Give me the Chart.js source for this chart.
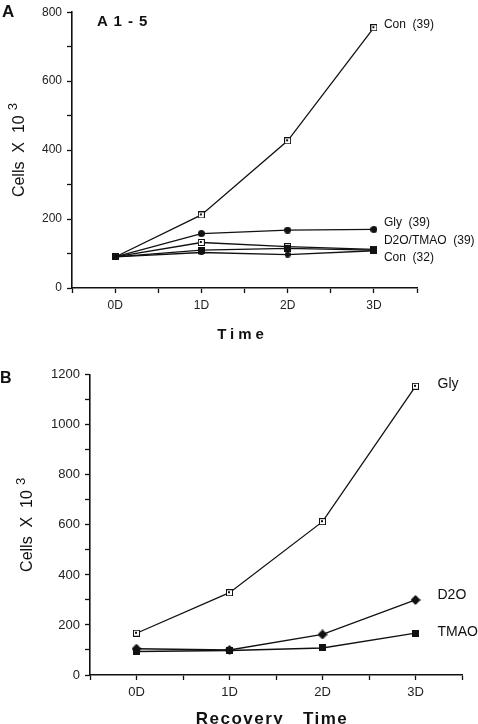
<!DOCTYPE html>
<html>
<head>
<meta charset="utf-8">
<script src="https://cdn.jsdelivr.net/npm/chart.js@4.4.0/dist/chart.umd.min.js"></script>
<style>
  html, body { margin: 0; padding: 0; background: #fff; }
  #wrap { position: relative; width: 478px; height: 724px; overflow: hidden; font-family: Arial, "Liberation Sans", sans-serif; color: #111; }
  canvas { position: absolute; left: 0; }
  .tag { position: absolute; font-weight: bold; }
</style>
</head>
<body>
<div id="wrap">
  <canvas id="chartA" width="478" height="362" style="top:0"></canvas>
  <canvas id="chartB" width="478" height="362" style="top:362px"></canvas>
  <div class="tag" style="left:2px;top:2px;font-size:17px">A</div>
  <div class="tag" style="left:97px;top:12px;font-size:15px;letter-spacing:1px">A 1 - 5</div>
  <div class="tag" style="left:0px;top:369px;font-size:16px">B</div>
</div>
<script>
// days after the shift (0D .. 3D)
const days = ['0D', '1D', '2D', '3D'];

// panel A: cells x 10^3
const conA39 = [90, 212, 427, 755];
const glyA39 = [90, 158, 168, 170];
const d2oA39 = [90, 132, 120, 112];
const tmaoA39 = [90, 110, 115, 110];
const conA32 = [90, 103, 97, 108];

// panel B: recovery
const glyB = [167, 329, 613, 1154];
const d2oB = [105, 100, 162, 300];
const tmaoB = [94, 98, 108, 167];

// little marker images
function marker(kind, size) {
  const c = document.createElement('canvas');
  c.width = size; c.height = size;
  const g = c.getContext('2d');
  g.fillStyle = '#111';
  g.strokeStyle = '#111';
  if (kind === 'openDot') {
    g.fillRect(0, 0, size, size);
    g.fillStyle = '#fff';
    g.fillRect(1, 1, size - 2, size - 2);
    g.fillStyle = '#111';
    const m = Math.floor(size / 2);
    g.fillRect(m - 1, m - 1, 2, 2);
  } else if (kind === 'square') {
    g.fillRect(0, 0, size, size);
  } else if (kind === 'diamond') {
    g.beginPath();
    g.moveTo(size / 2, 0);
    g.lineTo(size, size / 2);
    g.lineTo(size / 2, size);
    g.lineTo(0, size / 2);
    g.closePath();
    g.fill();
  } else if (kind === 'circle') {
    g.beginPath();
    g.arc(size / 2, size / 2, size / 2, 0, Math.PI * 2);
    g.fill();
  }
  return c;
}

function toPoints(vals) {
  return vals.map((v, i) => ({ x: i, y: v }));
}

function series(vals, style) {
  return {
    data: toPoints(vals),
    borderColor: '#111',
    borderWidth: 1.3,
    pointStyle: style,
    pointRadius: 4,
    tension: 0,
  };
}

// axis titles and text next to the line ends
const panelText = {
  id: 'panelText',
  afterDraw(chart, args, opts) {
    const ctx = chart.ctx;
    const xs = chart.scales.x, ys = chart.scales.y;
    const area = chart.chartArea;
    ctx.save();
    ctx.fillStyle = '#111';
    ctx.textBaseline = 'middle';

    ctx.font = opts.labelFont;
    opts.items.forEach(l => {
      ctx.fillText(l.text, xs.getPixelForValue(3) + opts.dx, ys.getPixelForValue(l.at));
    });

    // x title, spaced out
    ctx.font = opts.xTitleFont;
    ctx.letterSpacing = opts.xSpacing;
    ctx.textAlign = 'center';
    ctx.fillText(opts.xTitle, (area.left + area.right) / 2 + opts.xShift, opts.xTitleY);
    ctx.letterSpacing = '0px';

    // y title with raised exponent
    ctx.translate(opts.yTitleX, (area.top + area.bottom) / 2);
    ctx.rotate(-Math.PI / 2);
    ctx.textAlign = 'left';
    ctx.font = '16px Arial';
    const main = 'Cells  X  10';
    const w1 = ctx.measureText(main).width;
    ctx.font = '13px Arial';
    const w2 = ctx.measureText('3').width;
    const x0 = -(w1 + 5 + w2) / 2;
    ctx.font = '16px Arial';
    ctx.fillText(main, x0, 0);
    ctx.font = '13px Arial';
    ctx.fillText('3', x0 + w1 + 5, -7);
    ctx.restore();
  }
};

function panel(id, datasets, p) {
  return new Chart(document.getElementById(id).getContext('2d'), {
    type: 'line',
    data: { datasets: datasets },
    plugins: [panelText],
    options: {
      responsive: false,
      animation: false,
      layout: { padding: { top: p.top, right: 478 - p.right, left: 0, bottom: 0 } },
      plugins: {
        legend: { display: false },
        tooltip: { enabled: false },
        panelText: p.text,
      },
      scales: {
        x: {
          type: 'linear',
          min: -0.5,
          max: 3.5,
          afterFit: s => { s.height = 362 - p.bottom; },
          ticks: {
            stepSize: 0.5,
            autoSkip: false,
            maxRotation: 0,
            padding: 5,
            color: '#222',
            font: { family: 'Arial', size: p.tickSize },
            callback: v => Number.isInteger(v) ? days[v] : '',
          },
          grid: { drawOnChartArea: false, tickLength: 5, color: '#111', tickWidth: 1.3 },
          border: { color: '#111', width: 1.6 },
        },
        y: {
          min: 0,
          max: p.yMax,
          afterFit: s => { s.width = p.left; },
          ticks: {
            stepSize: 100,
            autoSkip: false,
            padding: 5,
            color: '#222',
            font: { family: 'Arial', size: p.tickSize },
            callback: v => v % 200 === 0 ? v : '',
          },
          grid: { drawOnChartArea: false, tickLength: 5, color: '#111', tickWidth: 1.3 },
          border: { color: '#111', width: 1.6 },
        },
      },
    },
  });
}

panel('chartA', [
  series(tmaoA39, marker('square', 7)),
  series(conA39, marker('openDot', 7)),
  series(glyA39, marker('circle', 7)),
  series(d2oA39, marker('openDot', 7)),
  series(conA32, marker('circle', 6)),
], {
  left: 72, right: 417, top: 11, bottom: 288,
  yMax: 800, tickSize: 12,
  text: {
    xTitle: 'Time', xTitleFont: 'bold 15px Arial', xSpacing: '4px', xTitleY: 335, xShift: -2,
    yTitleX: 20,
    dx: 10, labelFont: '12px Arial',
    items: [
      { text: 'Con  (39)', at: 765 },
      { text: 'Gly  (39)', at: 188 },
      { text: 'D2O/TMAO  (39)', at: 136 },
      { text: 'Con  (32)', at: 87 },
    ],
  },
});

panel('chartB', [
  series(tmaoB, marker('square', 7)),
  series(glyB, marker('openDot', 7)),
  series(d2oB, marker('diamond', 10)),
], {
  left: 90, right: 462, top: 12, bottom: 313,
  yMax: 1200, tickSize: 13,
  text: {
    xTitle: 'Recovery   Time', xTitleFont: 'bold 17px Arial', xSpacing: '1.5px', xTitleY: 357, xShift: -4,
    yTitleX: 28,
    dx: 22, labelFont: '14px Arial',
    items: [
      { text: 'Gly', at: 1163 },
      { text: 'D2O', at: 318 },
      { text: 'TMAO', at: 171 },
    ],
  },
});
</script>
</body>
</html>
